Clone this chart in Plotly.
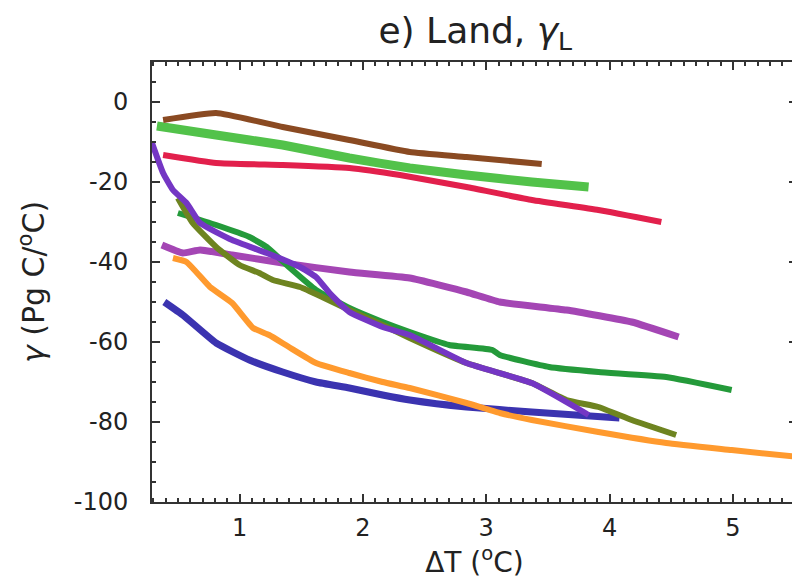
import plotly.graph_objects as go

# ---- data ----
brown_x = [0.38, 0.81, 1.35, 1.89, 2.38, 2.84, 3.45]
brown_y = [-4.5, -2.75, -6.25, -9.5, -12.5, -13.75, -15.5]

lgreen_x = [0.33, 0.81, 1.35, 1.89, 2.38, 2.84, 3.37, 3.83]
lgreen_y = [-6, -8.25, -10.75, -14, -16.5, -18.25, -20, -21.25]

red_x = [0.38, 0.81, 1.35, 1.89, 2.30, 2.84, 3.37, 3.91, 4.42]
red_y = [-13.25, -15.25, -15.75, -16.5, -18.25, -21.25, -24.5, -27, -30]

violet_x = [0.29, 0.38, 0.46, 0.57, 0.68, 0.94, 1.22, 1.49, 1.62, 1.73, 1.89, 2.16, 2.38, 2.84, 3.37, 3.79, 3.83]
violet_y = [-10.25, -17.75, -22, -25.25, -30.25, -34.5, -37.75, -41.25, -43.75, -47.75, -52.5, -56.25, -58.25, -65.25, -70.25, -77.5, -78.25]

olive_x = [0.50, 0.62, 0.81, 1.0, 1.16, 1.27, 1.49, 1.67, 1.89, 2.16, 2.38, 2.84, 3.37, 3.65, 3.91, 4.18, 4.54]
olive_y = [-24, -30.25, -36.25, -40.75, -42.75, -44.5, -46.25, -48.75, -52, -55.75, -59, -65.25, -70.25, -74.5, -76.25, -79.5, -83.25]

dgreen_x = [0.50, 0.81, 1.08, 1.22, 1.40, 1.62, 1.89, 2.16, 2.38, 2.70, 3.05, 3.11, 3.51, 3.91, 4.46, 4.99]
dgreen_y = [-27.75, -30.75, -33.75, -36.25, -41.25, -47, -51.5, -55, -57.5, -60.75, -62, -63.25, -66.25, -67.5, -68.75, -72]

magenta_x = [0.37, 0.54, 0.68, 0.94, 1.35, 1.89, 2.38, 2.84, 3.11, 3.65, 4.18, 4.56]
magenta_y = [-35.75, -37.75, -37, -38.25, -40.25, -42.5, -44, -47.5, -50, -52, -55, -58.75]

orange_x = [0.46, 0.57, 0.76, 0.94, 1.11, 1.24, 1.40, 1.62, 1.89, 2.16, 2.38, 2.84, 3.11, 3.37, 3.91, 4.46, 4.99, 5.53]
orange_y = [-39, -40, -46.25, -50.25, -56.5, -58.25, -61.25, -65.25, -67.75, -70, -71.5, -75.25, -77.75, -79.5, -82.5, -85.25, -87, -88.75]

blue_x = [0.39, 0.54, 0.81, 1.08, 1.35, 1.62, 1.89, 2.16, 2.38, 2.84, 3.37, 4.08]
blue_y = [-50, -53.25, -60.25, -64.5, -67.5, -70, -71.5, -73.25, -74.5, -76.25, -77.5, -79]

y_tickvals = [0, -20, -40, -60, -80, -100]
y_ticktext = ["0", "-20", "-40", "-60", "-80", "-100"]
x_tickvals = [1, 2, 3, 4, 5]

series = [
    (blue_x, blue_y, "#3b33b0", 7),
    (orange_x, orange_y, "#ff9a2e", 6),
    (magenta_x, magenta_y, "#a446b4", 7),
    (dgreen_x, dgreen_y, "#249a3a", 6),
    (olive_x, olive_y, "#6e8420", 6),
    (violet_x, violet_y, "#7436c4", 6),
    (red_x, red_y, "#e2204c", 6),
    (lgreen_x, lgreen_y, "#52c24a", 9),
    (brown_x, brown_y, "#8a4a22", 6),
]

fig = go.Figure()
for xs, ys, col, w in series:
    fig.add_trace(go.Scatter(x=xs, y=ys, mode="lines",
                             line=dict(color=col, width=w, shape="spline", smoothing=0.4),
                             showlegend=False, hoverinfo="skip"))

# the page body adds an 8px offset, so the figure is 792x577 to fill the 800x585 window
font_family = "DejaVu Sans, Liberation Sans, Arial, sans-serif"
fig.update_layout(
    width=792, height=577,
    margin=dict(l=144, r=3, t=54, b=83),
    paper_bgcolor="white", plot_bgcolor="white",
    font=dict(family=font_family, color="#222222", size=24),
    title=dict(text="e) Land, <i>γ</i><sub>L</sub>", xref="container", x=0.59, xanchor="center",
               yref="container", y=0.962, yanchor="middle", font=dict(size=36, family=font_family)),
)
fig.update_xaxes(
    range=[0.29, 5.52], tickvals=x_tickvals, ticks="inside", ticklen=8, tickwidth=1.5,
    tickcolor="#333", showline=True, linecolor="#333", linewidth=2, mirror="allticks",
    showgrid=False, zeroline=False, tickfont=dict(size=24), ticklabelstandoff=3,
    automargin=False,
    minor=dict(ticks="inside", dtick=0.1, ticklen=4, tickcolor="#333", showgrid=False),
    title=dict(text="ΔT (<sup>o</sup>C)", font=dict(size=28), standoff=4),
)
fig.update_yaxes(
    range=[-100, 10], tickvals=y_tickvals, ticktext=y_ticktext, ticks="inside", ticklen=8,
    tickwidth=1.5, tickcolor="#333", showline=True, linecolor="#333", linewidth=2,
    mirror="allticks", showgrid=False, zeroline=False, tickfont=dict(size=24),
    ticklabelstandoff=17, automargin=False,
    minor=dict(ticks="inside", dtick=5, ticklen=4, tickcolor="#333", showgrid=False),
    title=dict(text="<i>γ</i> (Pg C/<sup>o</sup>C)", font=dict(size=30), standoff=20),
)

fig.write_html("out.html")
